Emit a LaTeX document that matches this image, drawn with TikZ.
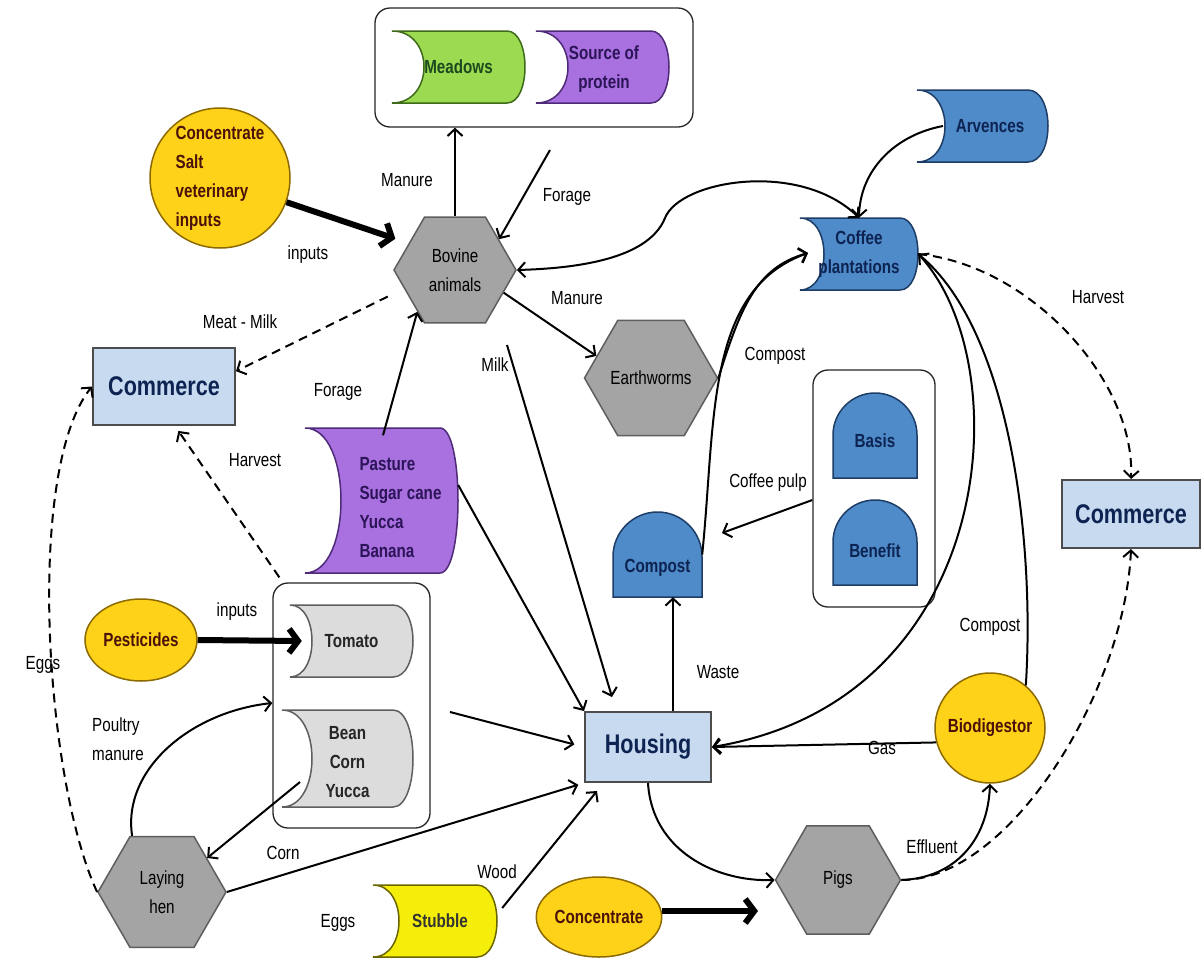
\documentclass[tikz,border=0pt]{standalone}
\usepackage{fontspec}
\setmainfont{Liberation Sans}[FakeStretch=0.8]
\usetikzlibrary{shapes.geometric,arrows.meta}
\definecolor{yel}{HTML}{FFD21A}
\definecolor{yelD}{HTML}{8C6A00}
\definecolor{maroon}{HTML}{4A1208}
\definecolor{gry}{HTML}{A4A4A4}
\definecolor{gryD}{HTML}{5E5E5E}
\definecolor{blu}{HTML}{4F8AC9}
\definecolor{bluD}{HTML}{1D3D66}
\definecolor{navy}{HTML}{0D2452}
\definecolor{lblu}{HTML}{C8DAF0}
\definecolor{grn}{HTML}{9CDA52}
\definecolor{grnD}{HTML}{3E6B1A}
\definecolor{grnT}{HTML}{1C4A1E}
\definecolor{pur}{HTML}{A970E0}
\definecolor{purD}{HTML}{4E2A78}
\definecolor{purT}{HTML}{2C1458}
\definecolor{lgry}{HTML}{DCDCDC}
\definecolor{lem}{HTML}{F5EE0A}
\definecolor{lemD}{HTML}{6B6500}
\newcommand\sdshape[7]{\path[#7] (#1,#2) -- ({#3-#6},#2) .. controls ({#3+#6/3},#2) and ({#3+#6/3},#4) .. ({#3-#6},#4) -- (#1,#4) .. controls ({#1+4*#5/3},#4) and ({#1+4*#5/3},#2) .. (#1,#2) -- cycle;}
\newcommand\domeshape[5]{\path[#5] (#1,#4) -- (#1,{#2+(#3-#1)/2}) .. controls (#1,{#2+(#3-#1)*0.225}) and ({#1+(#3-#1)*0.225},#2) .. ({(#1+#3)/2},#2) .. controls ({#3-(#3-#1)*0.225},#2) and (#3,{#2+(#3-#1)*0.225}) .. (#3,{#2+(#3-#1)/2}) -- (#3,#4) -- cycle;}
\begin{document}
\begin{tikzpicture}[x=1pt,y=-1pt,
 every node/.style={font=\fontsize{19}{29}\selectfont},
 lbl/.style={inner sep=0pt, align=left},
 box/.style={draw=black!85, line width=1.3pt, rounded corners=15pt},
 rectnode/.style={draw=black!70, line width=2pt, fill=lblu, text=navy, font=\bfseries\fontsize{27}{30}\selectfont},
 hexa/.style={regular polygon, regular polygon sides=6, draw=gryD, fill=gry, line width=1.5pt, inner sep=0pt, align=center, text=black},
 yelnode/.style={draw=yelD, fill=yel, line width=1.5pt, text=maroon, font=\bfseries\fontsize{19}{29}\selectfont, inner sep=0pt},
 sdbox/.style={inner sep=0pt, align=center, font=\bfseries\fontsize{19}{29}\selectfont},
 bluefill/.style={fill=blu, draw=bluD, line width=1.5pt},
 arr/.style={line width=2pt, -{Straight Barb[length=7pt,width=15pt]}},
 arrb/.style={line width=2pt, {Straight Barb[length=7pt,width=15pt]}-{Straight Barb[length=7pt,width=15pt]}},
 darr/.style={arr, dash pattern=on 9pt off 6pt},
 tarr/.style={line width=6pt, -{Straight Barb[length=9pt,width=24pt]}},
]
\useasboundingbox (0,0) rectangle (1203,959);
\fill[white] (0,0) rectangle (1203,959);

% containers
\node[box, minimum width=318pt, minimum height=119pt] (topbox) at (534,67.5) {};
\node[box, minimum width=157pt, minimum height=245pt] (cropbox) at (351.5,705.5) {};
\node[box, minimum width=122pt, minimum height=237pt] (coffeebox) at (874,488.5) {};

% stored-data shapes
\sdshape{392}{31}{525}{103}{32}{18}{fill=grn, draw=grnD, line width=1.5pt}
\node[sdbox, text=grnT, minimum width=133pt, minimum height=72pt] (meadows) at (458.5,67) {Meadows};
\sdshape{536}{31}{669}{103}{32}{18}{fill=pur, draw=purD, line width=1.5pt}
\node[sdbox, text=purT, minimum width=133pt, minimum height=72pt] (protein) at (604,69) {Source of\\protein};
\sdshape{917}{90}{1048}{162}{28}{20}{bluefill}
\node[sdbox, text=navy, minimum width=131pt, minimum height=72pt] (arvences) at (990,126) {Arvences};
\sdshape{800}{218}{918}{290}{24}{18}{bluefill}
\node[sdbox, text=navy, minimum width=118pt, minimum height=72pt] (coffee) at (859,254) {Coffee\\plantations};
\sdshape{305}{428}{458}{573}{36}{18}{fill=pur, draw=purD, line width=1.5pt}
\node[sdbox, text=purT, align=left, minimum width=153pt, minimum height=145pt] (pasture) at (381.5,508) {\hspace*{38pt}Pasture\\\hspace*{38pt}Sugar cane\\\hspace*{38pt}Yucca\\\hspace*{38pt}Banana};
\sdshape{290}{605}{413}{677}{22}{20}{fill=lgry, draw=gryD, line width=1.5pt}
\node[sdbox, text=black!85, minimum width=123pt, minimum height=72pt] (tomato) at (351.5,641) {Tomato};
\sdshape{282}{710}{413}{807}{30}{20}{fill=lgry, draw=gryD, line width=1.5pt}
\node[sdbox, text=black!85, minimum width=131pt, minimum height=97pt] (bean) at (347.5,762) {Bean\\Corn\\Yucca};
\sdshape{373}{885}{497}{957}{26}{20}{fill=lem, draw=lemD, line width=1.5pt}
\node[sdbox, text=black!80, minimum width=124pt, minimum height=72pt] (stubble) at (440,921) {Stubble};

% dome shapes
\domeshape{613}{512}{702}{597}{bluefill}
\node[sdbox, text=navy, minimum width=89pt, minimum height=85pt, text height=40pt, text depth=4pt] (compost) at (657.5,554.5) {Compost};
\domeshape{833}{393}{917}{478}{bluefill}
\node[sdbox, text=navy, minimum width=84pt, minimum height=85pt, text height=28pt, text depth=4pt] (basis) at (875,435.5) {Basis};
\domeshape{833}{500}{917}{585}{bluefill}
\node[sdbox, text=navy, minimum width=84pt, minimum height=85pt, text height=34pt, text depth=4pt] (benefit) at (875,542.5) {Benefit};

% rectangles
\node[rectnode, minimum width=142pt, minimum height=77pt] (commerceL) at (164,386.5) {Commerce};
\node[rectnode, minimum width=138pt, minimum height=68pt] (commerceR) at (1131,514) {Commerce};
\node[rectnode, minimum width=126pt, minimum height=70pt] (housing) at (648,747) {Housing};

% hexagons
\node[hexa, minimum size=122pt] (bovine) at (455,270) {Bovine\\animals};
\node[hexa, minimum size=133pt] (earthworms) at (651,378) {Earthworms};
\node[hexa, minimum size=125pt] (pigs) at (838,880) {Pigs};
\node[hexa, minimum size=128pt] (layhen) at (162,892) {Laying\\hen};

% yellow
\node[yelnode, circle, minimum size=140pt, align=left] (salt) at (220,178) {Concentrate\\Salt\\veterinary\\inputs};
\node[yelnode, circle, minimum size=110pt] (biodig) at (990,728) {Biodigestor};
\node[yelnode, ellipse, minimum width=112pt, minimum height=82pt] (pest) at (141,640) {Pesticides};
\node[yelnode, ellipse, minimum width=112pt, minimum height=80pt] (conc) at (599,917) {Concentrate};

% labels
\node[lbl] (t1) at (407,180) {Manure};
\node[lbl] (t2) at (567,197) {Forage};
\node[lbl] (t3) at (308,255) {inputs};
\node[lbl] (t4) at (240,322) {Meat - Milk};
\node[lbl] (t5) at (577,298) {Manure};
\node[lbl] (t6) at (338,392) {Forage};
\node[lbl] (t7) at (495,365) {Milk};
\node[lbl] (t8) at (775,356) {Compost};
\node[lbl] (t9) at (1098,297) {Harvest};
\node[lbl] (t10) at (255,460) {Harvest};
\node[lbl] (t11) at (768,483) {Coffee pulp};
\node[lbl] (t12) at (237,612) {inputs};
\node[lbl] (t13) at (43,665) {Eggs};
\node[lbl] (t14) at (118,739) {Poultry\\manure};
\node[lbl] (t15) at (718,672) {Waste};
\node[lbl] (t16) at (990,627) {Compost};
\node[lbl] (t17) at (882,748) {Gas};
\node[lbl] (t18) at (283,853) {Corn};
\node[lbl] (t19) at (497,872) {Wood};
\node[lbl] (t20) at (338,923) {Eggs};
\node[lbl] (t21) at (932,847) {Effluent};

% coordinates
\coordinate (forageA) at (550,150);
\coordinate (arvin) at (943,126);
\coordinate (cofin) at (808,253);
\coordinate (wx) at (673,0);
\coordinate (pulpA) at (0,500);
\coordinate (pulpB) at (722,533);
\coordinate (milkA) at (507,345);
\coordinate (milkB) at (612,697);
\coordinate (pbx) at (383,0);
\coordinate (pm) at (0,703);
\coordinate (beanA) at (300,782);
\coordinate (cropA) at (450,712);
\coordinate (woodB) at (597,791);
\coordinate (tline) at (0,911);
\coordinate (tipC) at (758,911);

% connectors
\draw[arr] (bovine.north) -- (bovine.north |- topbox.south);
\draw[arr] (forageA) -- (bovine.35);
\draw[tarr, shorten >=14pt] (salt.-20) -- (bovine.150);
\draw[darr, shorten <=18pt] (bovine.200) -- (commerceL.12);
\draw[arrb] (bovine.east) .. controls (590,268) and (650,255) .. (665,218) .. controls (680,180) and (800,160) .. (coffee.north);
\draw[arr] (arvin) .. controls (895,135) and (860,170) .. (coffee.north);
\draw[arr] (bovine.-25) -- (earthworms.158);
\draw[arr] (earthworms.east) .. controls (740,310) and (755,268) .. (cofin);
\draw[arr] (compost.east) .. controls (716,420) and (705,290) .. (cofin);
\draw[darr] (coffee.east) .. controls (1030,265) and (1135,380) .. (commerceR.north);
\draw[arr] (biodig.50) .. controls (1035,540) and (1010,330) .. (coffee.east);
\draw[arr] (coffee.east) .. controls (1020,360) and (1000,700) .. (housing.east);
\draw[arr] (biodig.195) -- (housing.east);
\draw[arr] (housing.north -| wx) -- (compost.south -| wx);
\draw[arr] (coffeebox.west |- pulpA) -- (pulpB);
\draw[arr] (milkA) -- (milkB);
\draw[arr] ([yshift=23pt]pasture.east) -- (housing.north west);
\draw[arr] (pasture.north -| pbx) -- (bovine.228);
\draw[darr, shorten >=6pt] ([xshift=7pt,yshift=5pt]cropbox.north west) -- ([xshift=11pt]commerceL.south);
\draw[darr] (layhen.west) .. controls (45,780) and (25,470) .. (commerceL.west);
\draw[tarr] (pest.east) -- ([xshift=12pt]tomato.west);
\draw[arr] (layhen.118) .. controls (122,770) and (190,712) .. (cropbox.west |- pm);
\draw[arr] (beanA) -- (layhen.37);
\draw[arr, shorten >=10pt] (cropA) -- (housing.west);
\draw[arr, shorten >=6pt] (layhen.east) -- (housing.south west);
\draw[arr] ([yshift=13pt]stubble.east) -- (woodB);
\draw[arr] (housing.south) .. controls (652,850) and (715,882) .. (pigs.west);
\draw[tarr] (conc.east |- tline) -- (tipC);
\draw[arr] (pigs.east) .. controls (955,878) and (988,840) .. (biodig.south);
\draw[darr] (pigs.east) .. controls (1010,880) and (1125,690) .. (commerceR.south);
\end{tikzpicture}
\end{document}
